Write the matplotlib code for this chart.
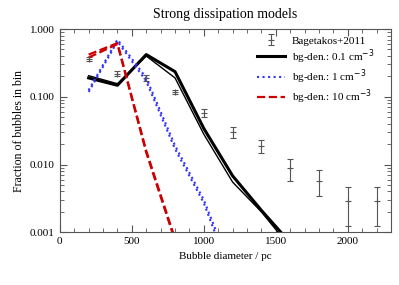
import matplotlib
matplotlib.use("Agg")
import matplotlib.pyplot as plt
import numpy as np

plt.rcParams['font.family'] = ['Liberation Serif', 'DejaVu Serif']

# Observaciones Bagetakos+2011
obs_x = [200, 400, 600, 800, 1000, 1200, 1400, 1600, 1800, 2000, 2200]
obs_y = [0.36, 0.22, 0.187, 0.118, 0.058, 0.0305, 0.0189, 0.0088, 0.0058, 0.0029, 0.0029]
obs_lo = [0.34, 0.20, 0.17, 0.110, 0.051, 0.025, 0.0146, 0.0058, 0.0034, 0.00122, 0.00122]
obs_hi = [0.39, 0.24, 0.21, 0.128, 0.065, 0.036, 0.023, 0.0119, 0.0083, 0.0046, 0.0046]

# Modelos (dos corridas por densidad)
mod_x = [200, 400, 600, 800, 1000, 1200, 1400, 1600]
den01_a = [0.19, 0.148, 0.42, 0.235, 0.034, 0.0068, 0.0021, 0.0007]
den01_b = [0.205, 0.156, 0.40, 0.19, 0.028, 0.0055, 0.002, 0.0006]
den1_a = [0.118, 0.66, 0.17, 0.017, 0.0027, 0.0002, 0.00002, 0.000002]
den1_b = [0.125, 0.70, 0.19, 0.019, 0.003, 0.00025, 0.00002, 0.000002]
den10_a = [0.42, 0.62, 0.016, 0.0008, 0.00005, 0.000005, 0.0000005, 0.00000005]
den10_b = [0.38, 0.60, 0.015, 0.00075, 0.00005, 0.000005, 0.0000005, 0.00000005]

fig = plt.figure(figsize=(3.99, 2.85), dpi=100)
ax = fig.add_axes([0.150, 0.185, 0.830, 0.713])

obs_y = np.array(obs_y)
yerr = [obs_y - np.array(obs_lo), np.array(obs_hi) - obs_y]
eb = ax.errorbar(obs_x, obs_y, yerr=yerr, fmt='+', color='#555555', ms=4, mew=0.8,
                 elinewidth=0.8, capsize=2, capthick=0.8, label='Bagetakos+2011')

l1, = ax.plot(mod_x, den01_a, '-', color='black', lw=2.2, label='bg-den.: 0.1 cm$^{-3}$')
ax.plot(mod_x, den01_b, '-', color='black', lw=1.0)
l2, = ax.plot(mod_x, den1_a, ':', color='#3333ff', lw=1.5, label='bg-den.: 1 cm$^{-3}$')
ax.plot(mod_x, den1_b, ':', color='#3333ff', lw=1.5)
l3, = ax.plot(mod_x, den10_a, '--', color='#cc0000', lw=1.6, label='bg-den.: 10 cm$^{-3}$')
ax.plot(mod_x, den10_b, '--', color='#cc0000', lw=1.6)

ax.set_yscale('log')
ax.set_xlim(0, 2300)
ax.set_ylim(0.001, 1.0)
ax.set_yticks([0.001, 0.01, 0.1, 1.0])
ax.set_yticklabels(['0.001', '0.010', '0.100', '1.000'])
ax.set_xticks([0, 500, 1000, 1500, 2000])
ax.set_xticks(np.arange(0, 2301, 100), minor=True)
ax.tick_params(which='both', direction='in', top=True, right=True, labelsize=8,
               color='#555555')
ax.tick_params(which='major', length=5)
ax.tick_params(which='minor', length=3)
for s in ax.spines.values():
    s.set_color('#555555')
    s.set_linewidth(0.8)

ax.set_title("Strong dissipation models", fontsize=10, pad=8)
ax.set_xlabel("Bubble diameter / pc", fontsize=8)
ax.set_ylabel("Fraction of bubbles in bin", fontsize=8.5)

ax.legend([eb, l1, l2, l3], [eb.get_label(), l1.get_label(), l2.get_label(), l3.get_label()],
          loc='upper right', frameon=False, fontsize=8, handlelength=2.5,
          labelspacing=0.15, borderaxespad=0.2, handletextpad=0.6,
          bbox_to_anchor=(0.97, 1.0))

fig.savefig("out.png", dpi=100)
